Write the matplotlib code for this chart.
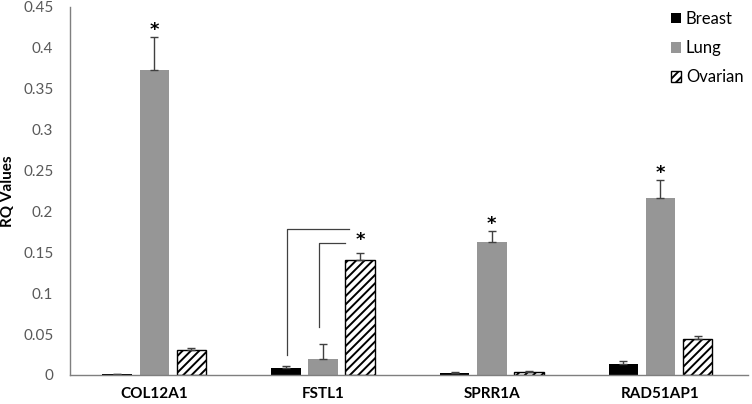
import matplotlib
matplotlib.use("Agg")
from matplotlib import pyplot as plt
import numpy as np

plt.rcParams['font.family'] = ['Lato', 'DejaVu Sans']
plt.rcParams['hatch.linewidth'] = 1.4

genes = ['COL12A1', 'FSTL1', 'SPRR1A', 'RAD51AP1']
breast = [0.001, 0.008, 0.002, 0.013]
breast_err = [0.0005, 0.003, 0.001, 0.004]
lung = [0.373, 0.020, 0.163, 0.216]
lung_err = [0.040, 0.018, 0.013, 0.022]
ovarian = [0.030, 0.140, 0.004, 0.044]
ovarian_err = [0.003, 0.009, 0.001, 0.004]
# asterisks: (gene index, bar offset, height)
stars = [(0, 0.0, 0.422), (1, 0.22, 0.165), (2, 0.0, 0.185), (3, 0.0, 0.247)]

x = np.arange(len(genes))
w = 0.175
off = 0.22

fig = plt.figure(figsize=(7.52, 4.04), dpi=100)
ax = fig.add_axes([0.093, 0.072, 0.902, 0.911])

ekw = dict(ecolor='#404040', elinewidth=1.0, capsize=3, capthick=1.0)
ax.bar(x - off, breast, w, color='black', label='Breast',
       yerr=[np.zeros(4), breast_err], error_kw=ekw)
ax.bar(x, lung, w, color='#969696', label='Lung',
       yerr=[np.zeros(4), lung_err], error_kw=ekw)
ax.bar(x + off, ovarian, w, color='white', edgecolor='black', hatch='////',
       linewidth=1.0, label='Ovarian', yerr=[np.zeros(4), ovarian_err], error_kw=ekw)

for g, o, h in stars:
    ax.text(g + o, h, '*', ha='center', va='center', fontsize=13,
            fontweight='bold', family='DejaVu Sans')

# significance brackets for FSTL1
ax.plot([1 - off + 0.005, 1 - off + 0.005, 1 + 0.155], [0.0245, 0.1785, 0.1785],
        color='#404040', lw=0.9)
ax.plot([1 - 0.022, 1 - 0.022, 1 + 0.133], [0.0587, 0.161, 0.161],
        color='#404040', lw=0.9)

ax.set_xlim(-0.5, 3.52)
ax.set_ylim(0, 0.45)
ax.set_yticks(np.arange(0, 0.451, 0.05))
ax.set_yticklabels(['0', '0.05', '0.1', '0.15', '0.2', '0.25', '0.3', '0.35', '0.4', '0.45'])
ax.set_xticks(x)
ax.set_xticklabels(genes, fontweight='bold', fontsize=11.5)
ax.tick_params(axis='both', length=0, colors='#595959', labelsize=11)
ax.tick_params(axis='x', labelcolor='black', pad=9)
ax.tick_params(axis='y', pad=12)
ax.set_ylabel('RQ Values', fontweight='bold', fontsize=11, labelpad=6)

for s in ['top', 'right']:
    ax.spines[s].set_visible(False)
for s in ['left', 'bottom']:
    ax.spines[s].set_color('#7f7f7f')
    ax.spines[s].set_linewidth(1.0)

ax.legend(loc='upper right', bbox_to_anchor=(1.015, 1.03), frameon=False,
          fontsize=12, handlelength=0.6, handleheight=0.6, handletextpad=0.3,
          labelspacing=0.8)

fig.savefig('out.png', dpi=100)
